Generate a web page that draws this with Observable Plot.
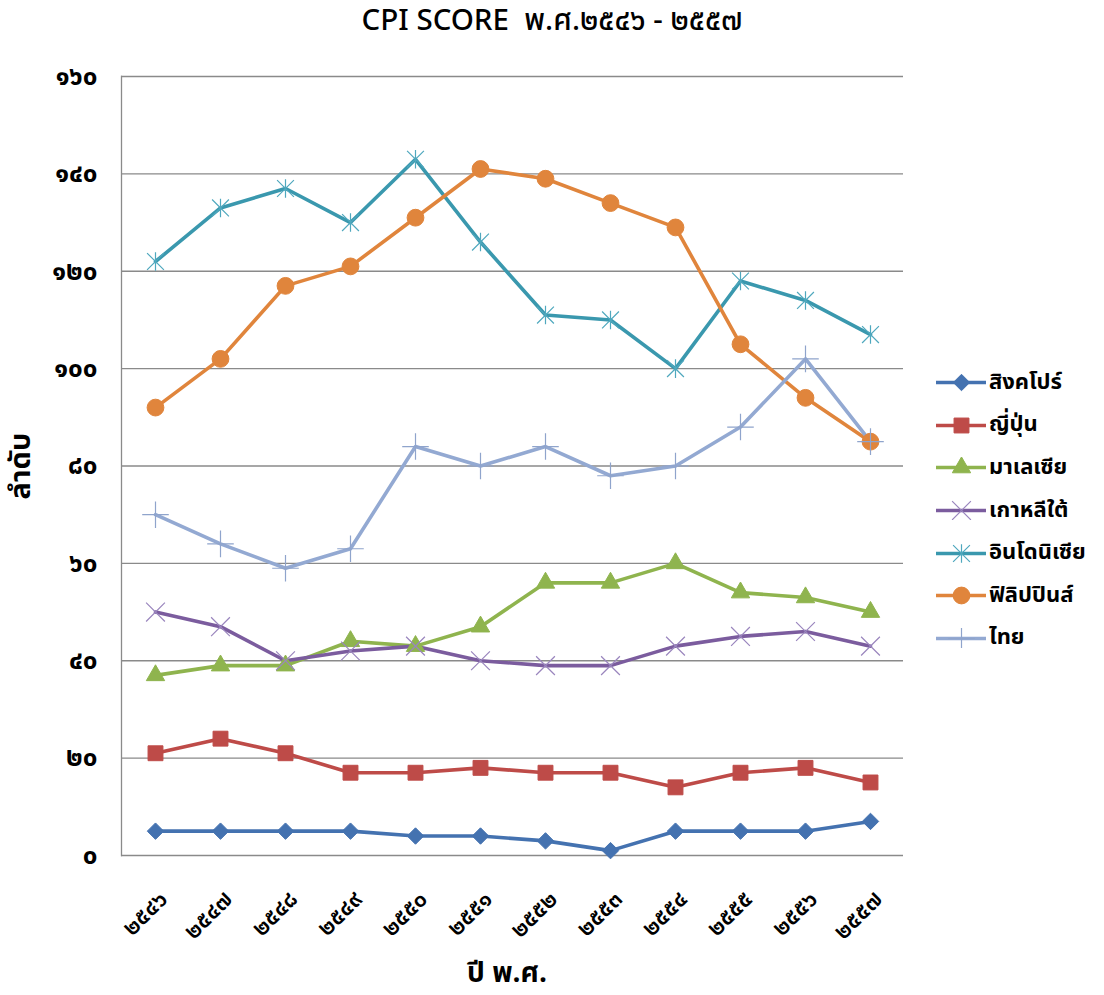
<!DOCTYPE html>
<html>
<head>
<meta charset="utf-8">
<script src="https://cdn.jsdelivr.net/npm/d3@7"></script>
<script src="https://cdn.jsdelivr.net/npm/@observablehq/plot@0.6"></script>
<style>
  body { margin: 0; background: #fff; font-family: "Noto Sans Thai", "Noto Sans", "DejaVu Sans", sans-serif; }
  #wrap { position: relative; width: 1104px; height: 995px; overflow: hidden; }
  #title { height: 50px; line-height: 42px; text-align: center; font-size: 29.5px; font-weight: 500; color: #000; }
  #xlabel { height: 40px; line-height: 38px; text-align: center; font-size: 28px; font-weight: bold; color: #000; padding-right: 90px; }
  #ylabel { position: absolute; left: 21px; top: 466px; transform: translate(-50%, -50%) rotate(-90deg); font-size: 29px; font-weight: bold; white-space: nowrap; }
  #legend { position: absolute; left: 936px; top: 361px; }
  .item { height: 42.6px; display: flex; align-items: center; font-size: 22px; font-weight: bold; }
  .item svg { margin-right: 3px; }
</style>
</head>
<body>
<div id="wrap">
  <div id="title">CPI SCORE&nbsp; พ.ศ.๒๕๔๖ - ๒๕๕๗</div>
  <div id="chart"></div>
  <div id="xlabel">ปี พ.ศ.</div>
  <div id="ylabel">ลำดับ</div>
  <div id="legend"></div>
</div>
<script>
// ---- data ----
const years = ["๒๕๔๖","๒๕๔๗","๒๕๔๘","๒๕๔๙","๒๕๕๐","๒๕๕๑","๒๕๕๒","๒๕๕๓","๒๕๕๔","๒๕๕๕","๒๕๕๖","๒๕๕๗"];
const countries = ["สิงคโปร์","ญี่ปุ่น","มาเลเซีย","เกาหลีใต้","อินโดนิเซีย","ฟิลิปปินส์","ไทย"];
const singapore   = [5, 5, 5, 5, 4, 4, 3, 1, 5, 5, 5, 7];
const japan       = [21, 24, 21, 17, 17, 18, 17, 17, 14, 17, 18, 15];
const malaysia    = [37, 39, 39, 44, 43, 47, 56, 56, 60, 54, 53, 50];
const korea       = [50, 47, 40, 42, 43, 40, 39, 39, 43, 45, 46, 43];
const indonesia   = [122, 133, 137, 130, 143, 126, 111, 110, 100, 118, 114, 107];
const philippines = [92, 102, 117, 121, 131, 141, 139, 134, 129, 105, 94, 85];
const thailand    = [70, 64, 59, 63, 84, 80, 84, 78, 80, 88, 102, 85];
const yTicks = [0, 20, 40, 60, 80, 100, 120, 140, 160];
const yTickLabels = ["๐","๒๐","๔๐","๖๐","๘๐","๑๐๐","๑๒๐","๑๔๐","๑๖๐"];

const seriesValues = [singapore, japan, malaysia, korea, indonesia, philippines, thailand];
const lineColors   = ["#4472B0", "#BE4B48", "#8FB44E", "#7B5C9E", "#3A98AE", "#E0853C", "#93A9D2"];
const markColors   = ["#4472B0", "#BE4B48", "#8FB44E", "#9A86BE", "#4FA8BE", "#E0853C", "#8FA4CC"];

// custom Excel-like asterisk (x + vertical)
const excelStar = {
  draw(ctx, size) {
    const r = Math.sqrt(size) * 0.5;
    ctx.moveTo(-r, -r); ctx.lineTo(r, r);
    ctx.moveTo(-r, r); ctx.lineTo(r, -r);
    ctx.moveTo(0, -r * 1.1); ctx.lineTo(0, r * 1.1);
  }
};
const markerDefs = [
  {symbol: "diamond2", r: 7.4, filled: true},
  {symbol: "square", r: 8.4, filled: true},
  {symbol: "triangle", r: 6.8, filled: true},
  {symbol: "times", r: 8.6, filled: false},
  {symbol: excelStar, r: 9.5, filled: false},
  {symbol: "circle", r: 8.4, filled: true},
  {symbol: "plus", r: 8.6, filled: false}
];

const rows = [];
countries.forEach((c, i) => seriesValues[i].forEach((v, j) => rows.push({country: c, idx: i, year: years[j], value: v})));

const marks = [
  Plot.ruleY(yTicks, {stroke: "#8a8a8a", strokeWidth: 1.3}),
  Plot.frame({anchor: "left", stroke: "#8a8a8a", strokeWidth: 1.3}),
  Plot.axisY({ticks: yTicks, tickSize: 0, tickPadding: 24, tickFormat: (d) => yTickLabels[yTicks.indexOf(d)], fontSize: 26, fontWeight: "bold", label: null}),
  Plot.axisX({tickSize: 0, tickRotate: -45, textAnchor: "end", fontSize: 23, fontWeight: 600, dx: 8, dy: 28, label: null})
];
countries.forEach((c, i) => {
  const data = rows.filter(d => d.idx === i);
  marks.push(Plot.line(data, {x: "year", y: "value", stroke: lineColors[i], strokeWidth: 3.6}));
});
countries.forEach((c, i) => {
  const data = rows.filter(d => d.idx === i);
  const m = markerDefs[i];
  marks.push(Plot.dot(data, {
    x: "year", y: "value", symbol: () => m.symbol, r: m.r,
    fill: m.filled ? markColors[i] : "none",
    stroke: markColors[i], strokeWidth: m.filled ? 1 : 1.2
  }));
});

const chart = Plot.plot({
  width: 1104,
  height: 905,
  marginTop: 26,
  marginBottom: 100,
  marginLeft: 121,
  marginRight: 201,
  style: {fontFamily: '"Noto Sans Thai", "Noto Sans", sans-serif', color: "#000", background: "#fff", overflow: "visible"},
  x: {type: "point", domain: years, padding: 0.5},
  y: {domain: [0, 160]},
  symbol: {type: "identity"},
  marks
});
document.getElementById("chart").appendChild(chart);

// legend
const legend = document.getElementById("legend");
countries.forEach((c, i) => {
  const m = markerDefs[i];
  const sw = Plot.plot({
    width: 50, height: 20, margin: 0,
    x: {domain: [0, 1], axis: null}, y: {domain: [0, 1], axis: null},
    symbol: {type: "identity"},
    marks: [
      Plot.line([{x: 0, y: 0.5}, {x: 1, y: 0.5}], {x: "x", y: "y", stroke: lineColors[i], strokeWidth: 3.6}),
      Plot.dot([{x: 0.5, y: 0.5}], {x: "x", y: "y", symbol: () => m.symbol, r: m.r,
        fill: m.filled ? markColors[i] : "none", stroke: markColors[i], strokeWidth: m.filled ? 1 : 1.2})
    ]
  });
  const item = document.createElement("div");
  item.className = "item";
  item.appendChild(sw);
  const t = document.createElement("span");
  t.textContent = c;
  item.appendChild(t);
  legend.appendChild(item);
});
</script>
</body>
</html>
